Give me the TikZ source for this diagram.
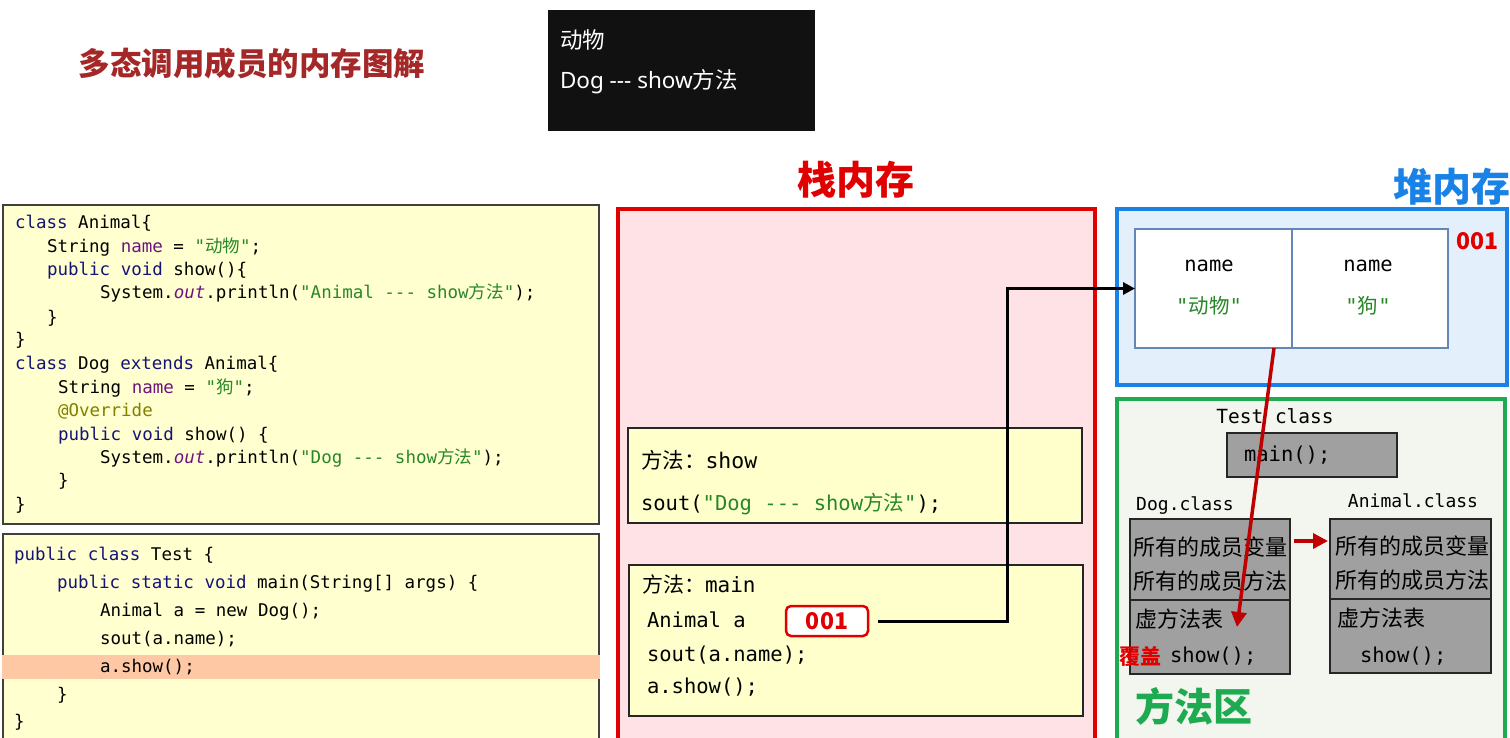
\documentclass[tikz,border=0pt]{standalone}
\usepackage{fontspec}
\setmainfont{Noto Sans CJK SC}
\setmonofont{DejaVu Sans Mono}
\newfontfamily\lat{Noto Sans}
\usetikzlibrary{arrows.meta,calc}
\newcommand\zh[1]{{\rmfamily #1}}
\definecolor{kwc}{RGB}{20,20,120}
\definecolor{nmc}{RGB}{110,20,130}
\definecolor{stc}{RGB}{40,135,40}
\definecolor{anc}{RGB}{128,128,0}
\definecolor{titlec}{RGB}{165,40,40}
\definecolor{stackred}{RGB}{225,0,0}
\definecolor{stackfill}{RGB}{255,226,230}
\definecolor{heapblue}{RGB}{25,130,230}
\definecolor{heapfill}{RGB}{227,240,252}
\definecolor{mgreen}{RGB}{30,170,80}
\definecolor{mfill}{RGB}{243,246,238}
\definecolor{codefill}{RGB}{255,255,208}
\definecolor{framefill}{RGB}{255,255,204}
\definecolor{hilite}{RGB}{255,200,165}
\definecolor{grayb}{RGB}{160,160,160}
\definecolor{objblue}{RGB}{100,135,185}
\definecolor{darkred}{RGB}{190,0,0}
\definecolor{termbg}{RGB}{17,17,17}
\newcommand\kw[1]{\textcolor{kwc}{#1}}
\newcommand\nm[1]{\textcolor{nmc}{#1}}
\newcommand\st[1]{\textcolor{stc}{#1}}
\newcommand\ot[1]{\textcolor{nmc}{\itshape #1}}
\newcommand\an[1]{\textcolor{anc}{#1}}
\tikzset{
  box/.style={anchor=north west, inner sep=0pt, outer sep=0pt},
  txt/.style={inner sep=0pt, outer sep=0pt},
  code/.style={txt, anchor=west, font=\ttfamily\fontsize{17.5}{20}\selectfont, text height=15.05pt, text depth=3.5pt},
  mono/.style={txt, anchor=west, font=\ttfamily\fontsize{20.5}{24}\selectfont, text height=17.6pt, text depth=4.1pt},
  monoc/.style={mono, anchor=center},
  cls/.style={txt, anchor=center, font=\ttfamily\fontsize{18}{22}\selectfont, text height=15.5pt, text depth=3.6pt},
  zhs/.style={txt, anchor=west, font=\fontsize{22}{26}\selectfont, text height=21.1pt, text depth=4.4pt},
  big/.style={txt, font=\bfseries\fontsize{39}{44}\selectfont, text height=37.4pt, text depth=7.8pt},
  num/.style={txt, anchor=center, text=stackred, font=\bfseries\fontsize{23}{26}\selectfont, text height=21.2pt, text depth=4.6pt},
  term/.style={txt, anchor=west, text=white, font=\fontsize{22.5}{26}\selectfont, text height=21.6pt, text depth=4.5pt},
  blackarr/.style={line width=3pt, -{Triangle[length=12pt,width=12pt]}},
  redarr/.style={line width=3.5pt, draw=darkred, -{Triangle[length=15pt,width=15pt]}}
}
\begin{document}
\begin{tikzpicture}[x=1pt,y=-1pt]
\useasboundingbox (0,0) rectangle (1510,738);
\clip (0,0) rectangle (1510,738);
\fill[white] (0,0) rectangle (1510,738);

% title and console output
\node[txt, anchor=center, text=titlec, font=\bfseries\fontsize{31.5}{36}\selectfont, text height=30.2pt, text depth=6.3pt] (title) at (252,64) {多态调用成员的内存图解};
\node[box, fill=termbg, minimum width=267pt, minimum height=121pt] (term) at (548,10) {};
\node[term] (term1) at (560,40) {动物};
\node[term] (term2) at (560,80) {{\lat Dog -{}-{}- show}方法};

% code box 1
\node[box, draw=black!75, line width=1.5pt, fill=codefill, minimum width=596pt, minimum height=319pt] (code1) at (3,205) {};
\node[code] (a1) at (15,223) {\kw{class} Animal\{};
\node[code] (a2) at (47,247) {String \nm{name} = \st{"\zh{动物}"};};
\node[code] (a3) at (47,270) {\kw{public} \kw{void} show()\{};
\node[code] (a4) at (100,293) {System.\ot{out}.println(\st{"Animal -{}-{}- show\zh{方法}"});};
\node[code] (a5) at (47,318) {\}};
\node[code] (a6) at (15,340) {\}};
\node[code] (a7) at (15,364) {\kw{class} Dog \kw{extends} Animal\{};
\node[code] (a8) at (58,388) {String \nm{name} = \st{"\zh{狗}"};};
\node[code] (a9) at (58,411) {\an{@Override}};
\node[code] (a10) at (58,435) {\kw{public} \kw{void} show() \{};
\node[code] (a11) at (100,458) {System.\ot{out}.println(\st{"Dog -{}-{}- show\zh{方法}"});};
\node[code] (a12) at (58,481) {\}};
\node[code] (a13) at (15,505) {\}};

% code box 2
\node[box, draw=black!75, line width=1.5pt, fill=codefill, minimum width=596pt, minimum height=215pt] (code2) at (3,534) {};
\node[box, fill=hilite, minimum width=598pt, minimum height=24pt] (hl) at (2,655) {};
\node[code] (b1) at (14,555) {\kw{public} \kw{class} Test \{};
\node[code] (b2) at (57,583) {\kw{public} \kw{static} \kw{void} main(String[] args) \{};
\node[code] (b3) at (100,611) {Animal a = new Dog();};
\node[code] (b4) at (100,639) {sout(a.name);};
\node[code] (b5) at (100,667) {a.show();};
\node[code] (b6) at (57,695) {\}};
\node[code] (b7) at (14,722) {\}};

% stack memory
\node[big, anchor=center, text=stackred] (stacklbl) at (856,180) {栈内存};
\node[box, draw=stackred, line width=3.5pt, fill=stackfill, minimum width=477pt, minimum height=540pt] (stack) at (618,209) {};
\node[box, draw=black!85, line width=1.2pt, fill=framefill, minimum width=454pt, minimum height=95pt] (fshow) at (628,428) {};
\node[mono, font=\ttfamily\fontsize{21.5}{24}\selectfont, text height=18.5pt, text depth=4.3pt] (s1) at (641,461) {\zh{方法：}show};
\node[mono] (s2) at (641,504) {sout(\st{"Dog -{}-{}- show\zh{方法}"});};
\node[box, draw=black!85, line width=1.2pt, fill=framefill, minimum width=454pt, minimum height=151pt] (fmain) at (629,565) {};
\node[mono, font=\ttfamily\fontsize{21}{24}\selectfont, text height=18.1pt, text depth=4.2pt] (m1) at (642,586) {\zh{方法：}main};
\node[mono] (m2) at (647,621) {Animal a};
\node[mono] (m3) at (647,655) {sout(a.name);};
\node[mono] (m4) at (647,687) {a.show();};
\node[box, draw=stackred, line width=2.5pt, fill=white, rounded corners=5pt, minimum width=82pt, minimum height=30pt] (ref) at (786,606) {};
\node[num] (reftxt) at (ref.center) {001};

% heap memory
\node[big, anchor=west, text=heapblue] (heaplbl) at (1393,187) {堆内存};
\node[box, draw=heapblue, line width=3.5pt, fill=heapfill, minimum width=390pt, minimum height=176pt] (heap) at (1117,209) {};
\node[box, draw=objblue, line width=2.5pt, fill=white, minimum width=157pt, minimum height=119pt] (objL) at (1135,229) {};
\node[box, draw=objblue, line width=2.5pt, fill=white, minimum width=156pt, minimum height=119pt] (objR) at (1292,229) {};
\node[monoc] (o1) at (1209,265) {name};
\node[monoc, text=stc] (o2) at (1209,307) {"\zh{动物}"};
\node[monoc] (o3) at (1368,265) {name};
\node[monoc, text=stc] (o4) at (1368,307) {"\zh{狗}"};
\node[num] (addr) at (1477,241) {001};

% method area
\node[box, draw=mgreen, line width=3.5pt, fill=mfill, minimum width=388pt, minimum height=360pt] (marea) at (1117,399) {};
\node[cls, font=\ttfamily\fontsize{19.5}{22}\selectfont, text height=16.8pt, text depth=3.9pt] (testcls) at (1275,417) {Test class};
\node[box, draw=black!85, line width=1.2pt, fill=grayb, minimum width=170pt, minimum height=44pt] (mainbox) at (1227,433) {};
\node[mono] (maintxt) at (1244,455) {main();};
\node[cls] (dogcls) at (1185,505) {Dog.class};
\node[cls] (anicls) at (1413,502) {Animal.class};
\node[box, draw=black!85, line width=1.2pt, fill=grayb, minimum width=160pt, minimum height=81pt] (dogTop) at (1130,519) {};
\node[box, draw=black!85, line width=1.2pt, fill=grayb, minimum width=160pt, minimum height=74pt] (dogBot) at (1130,600) {};
\node[box, draw=black!85, line width=1.2pt, fill=grayb, minimum width=161pt, minimum height=80pt] (aniTop) at (1330,519) {};
\node[box, draw=black!85, line width=1.2pt, fill=grayb, minimum width=161pt, minimum height=74pt] (aniBot) at (1330,599) {};
\node[zhs] (d1) at (1133,547) {所有的成员变量};
\node[zhs] (d2) at (1133,581) {所有的成员方法};
\node[zhs] (d3) at (1135,619) {虚方法表};
\node[zhs, text=stackred, font=\bfseries\fontsize{21}{24}\selectfont, text height=20.2pt, text depth=4.2pt] (cover) at (1119,656) {覆盖};
\node[mono] (d4) at (1170,656) {show();};
\node[zhs] (n1) at (1335,546) {所有的成员变量};
\node[zhs] (n2) at (1335,580) {所有的成员方法};
\node[zhs] (n3) at (1337,618) {虚方法表};
\node[mono] (n4) at (1360,656) {show();};
\node[big, anchor=west, text=mgreen] (mlbl) at (1135,707) {方法区};

% connectors
\coordinate (knee) at (1007,0);
\draw[blackarr] ([xshift=10pt]ref.east) -| (knee |- objL.west) -- (objL.west);
\draw[redarr] ($(dogTop.north east)+(4,22)$) -- ($(aniTop.north west)+(-2,22)$);
\coordinate (vt) at (1237,627);
\draw[redarr] ($(objL.south east)+(-18,0)$) -- (vt);
\end{tikzpicture}
\end{document}
